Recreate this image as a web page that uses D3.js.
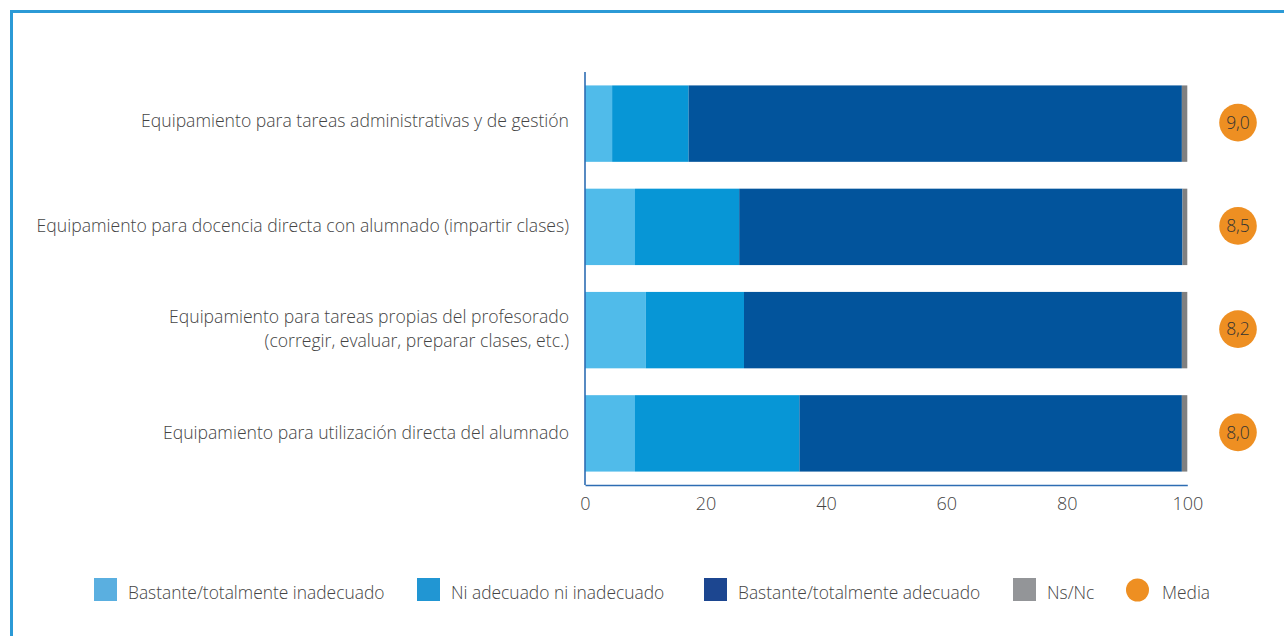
<!DOCTYPE html>
<html>
<head>
<meta charset="utf-8">
<script src="https://cdn.jsdelivr.net/npm/d3@7"></script>
<style>
  html, body { margin: 0; padding: 0; background: #fff; }
  svg { display: block; font-family: "Open Sans", "Noto Sans", sans-serif; font-weight: 300; }
</style>
</head>
<body>
<svg id="chart" width="1284" height="636"></svg>
<script>
// Categories (top to bottom), the rating scale and the stacked shares (%)
const categories = [
  ["Equipamiento para tareas administrativas y de gestión"],
  ["Equipamiento para docencia directa con alumnado (impartir clases)"],
  ["Equipamiento para tareas propias del profesorado", "(corregir, evaluar, preparar clases, etc.)"],
  ["Equipamiento para utilización directa del alumnado"]
];
const seriesNames = [
  "Bastante/totalmente inadecuado",
  "Ni adecuado ni inadecuado",
  "Bastante/totalmente adecuado",
  "Ns/Nc"
];
const inadecuado = [4.5, 8.3, 10.1, 8.3];
const neutral    = [12.7, 17.3, 16.3, 27.3];
const adecuado   = [81.9, 73.6, 72.7, 63.5];
const nsnc       = [0.9, 0.8, 0.9, 0.9];
const media      = [9.0, 8.5, 8.2, 8.0];
const xTicks     = [0, 20, 40, 60, 80, 100];

const barColors    = ["#50bbea", "#0796d6", "#02549c", "#808080"];
const legendColors = ["#5aafe0", "#2196d3", "#1c4690", "#939598"];
const orange = "#ee8f22";
const textColor = "#444";

const svg = d3.select("#chart");

// outer frame
svg.append("rect")
  .attr("x", 11.5).attr("y", 11.5)
  .attr("width", 1290).attr("height", 640)
  .attr("fill", "none").attr("stroke", "#2b9ad6").attr("stroke-width", 3);

const rows = categories.map((c, i) => ({
  idx: i,
  label: c,
  values: [inadecuado[i], neutral[i], adecuado[i], nsnc[i]],
  media: media[i]
}));

const x = d3.scaleLinear().domain([0, 100]).range([585, 1187.3]);
const y = d3.scaleBand().domain(d3.range(categories.length))
  .range([72, 485]).paddingInner(0.26).paddingOuter(0.13);

const stackInput = rows.map(r => {
  const o = { idx: r.idx };
  seriesNames.forEach((s, k) => o[s] = r.values[k]);
  return o;
});
const stacked = d3.stack().keys(seriesNames)(stackInput);

// stacked bars
svg.append("g").selectAll("g")
  .data(stacked)
  .join("g")
  .attr("fill", (d, k) => barColors[k])
  .selectAll("rect")
  .data(d => d)
  .join("rect")
  .attr("x", d => x(d[0]))
  .attr("y", d => y(d.data.idx))
  .attr("width", d => x(d[1]) - x(d[0]))
  .attr("height", y.bandwidth());

// axes
const axisColor = "#2d6db3";
const xAxis = svg.append("g")
  .attr("transform", "translate(0,485)")
  .call(d3.axisBottom(x).tickValues(xTicks).tickSize(0).tickPadding(12).tickFormat(d3.format("d")));
xAxis.select(".domain").attr("stroke", axisColor).attr("stroke-width", 1.6);
xAxis.selectAll("text")
  .attr("fill", textColor).attr("font-size", 18)
  .attr("font-family", "\"Open Sans\", sans-serif").attr("font-weight", 300);

svg.append("line")
  .attr("x1", x(0)).attr("x2", x(0))
  .attr("y1", 72).attr("y2", 485)
  .attr("stroke", axisColor).attr("stroke-width", 1.6);

// category labels
const labels = svg.append("g").selectAll("text")
  .data(rows)
  .join("text")
  .attr("text-anchor", "end")
  .attr("fill", textColor)
  .attr("font-size", 17.6)
  .attr("x", 569);
labels.each(function(d) {
  const t = d3.select(this);
  const n = d.label.length;
  const cy = y(d.idx) + y.bandwidth() / 2 - (d.idx === 0 ? 3 : 1);
  d.label.forEach((line, j) => {
    t.append("tspan")
      .attr("x", 569)
      .attr("y", cy + (j - (n - 1) / 2) * 24)
      .attr("dy", "0.35em")
      .text(line);
  });
});

// mean markers
const means = svg.append("g").selectAll("g")
  .data(rows)
  .join("g")
  .attr("transform", d => `translate(1238,${y(d.idx) + y.bandwidth() / 2 - 1})`);
means.append("circle").attr("r", 18.8).attr("fill", orange);
means.append("text")
  .attr("text-anchor", "middle").attr("dy", "0.36em")
  .attr("fill", "#333").attr("font-size", 17.5)
  .text(d => d3.format(".1f")(d.media).replace(".", ","));

// legend
const legendItems = [
  { name: seriesNames[0], color: legendColors[0], x: 94, shape: "rect" },
  { name: seriesNames[1], color: legendColors[1], x: 417, shape: "rect" },
  { name: seriesNames[2], color: legendColors[2], x: 704, shape: "rect" },
  { name: seriesNames[3], color: legendColors[3], x: 1013, shape: "rect" },
  { name: "Media", color: orange, x: 1126, shape: "circle" }
];
const lg = svg.append("g").selectAll("g")
  .data(legendItems)
  .join("g")
  .attr("transform", d => `translate(${d.x},578)`);
lg.filter(d => d.shape === "rect").append("rect")
  .attr("width", 23).attr("height", 23).attr("fill", d => d.color);
lg.filter(d => d.shape === "circle").append("circle")
  .attr("cx", 11.5).attr("cy", 12).attr("r", 11.5).attr("fill", d => d.color);
lg.append("text")
  .attr("x", d => d.shape === "circle" ? 36 : 34)
  .attr("y", 15).attr("dy", "0.35em")
  .attr("fill", textColor).attr("font-size", 17.4)
  .text(d => d.name);
</script>
</body>
</html>
